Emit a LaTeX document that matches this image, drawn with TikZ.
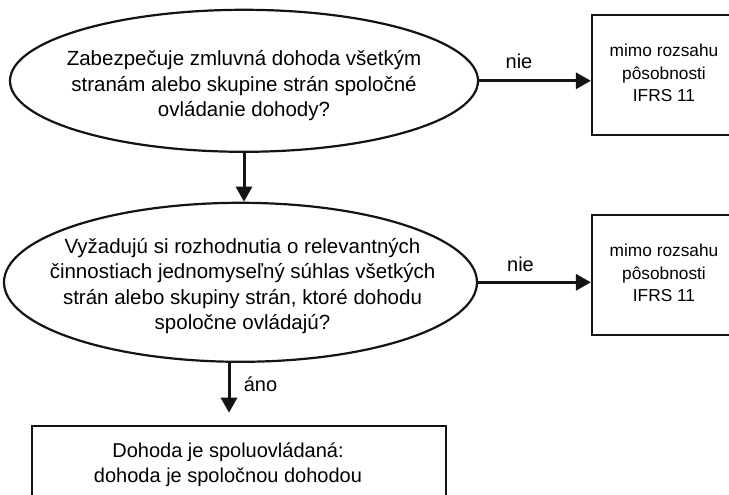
\documentclass[tikz,border=0pt]{standalone}
\usepackage{fontspec}
\setmainfont{Liberation Sans}
\usetikzlibrary{shapes.geometric,arrows.meta}
\definecolor{ink}{RGB}{20,20,20}
\begin{document}
\begin{tikzpicture}[x=1pt,y=-1pt,
  shapeline/.style={draw=ink,line width=2.2pt},
  question/.style={shapeline,ellipse,inner sep=0pt},
  boxshape/.style={shapeline,rectangle,inner sep=0pt},
  qtext/.style={align=center,inner sep=0pt,font=\fontsize{20.5}{25.5}\selectfont},
  btext/.style={align=center,inner sep=0pt,font=\fontsize{17.3}{22.5}\selectfont},
  lbl/.style={inner sep=0pt,anchor=base,font=\fontsize{20}{24}\selectfont},
  arr/.style={draw=ink,line width=3pt,-{Triangle[length=15pt,width=16pt]}}]
\useasboundingbox (0,0) rectangle (729,495);
\clip (0,0) rectangle (729,495);
\fill[white] (0,0) rectangle (729,495);

% question ellipses
\node[question,minimum width=468pt,minimum height=142pt] (q1) at (244,80.8) {};
\node[qtext] (q1t) at (244,86) {Zabezpečuje zmluvná dohoda všetkým\\stranám alebo skupine strán spoločné\\ovládanie dohody?};

\node[question,minimum width=473pt,minimum height=159pt] (q2) at (240.5,282.3) {};
\node[qtext] (q2t) at (242.5,286) {Vyžadujú si rozhodnutia o relevantných\\činnostiach jednomyseľný súhlas všetkých\\strán alebo skupiny strán, ktoré dohodu\\spoločne ovládajú?};

% out-of-scope boxes
\node[boxshape,minimum width=142pt,minimum height=120pt] (b1) at (663,75) {};
\node[btext] (b1t) at (664,73) {mimo rozsahu\\pôsobnosti\\IFRS 11};
\node[boxshape,minimum width=142pt,minimum height=120pt] (b2) at (663,275) {};
\node[btext] (b2t) at (664,273) {mimo rozsahu\\pôsobnosti\\IFRS 11};

% result box
\node[boxshape,minimum width=414pt,minimum height=84pt] (b3) at (239,468) {};
\node[qtext,font=\fontsize{20}{25}\selectfont] (b3t) at (228,465) {Dohoda je spoluovládaná:\\dohoda je spoločnou dohodou};

% connectors
\draw[arr] (q1.south) -- (q1.south |- q2.north);
\draw[arr] (q1.east) -- (q1.east -| b1.west);
\draw[arr] (q2.east) -- (q2.east -| b2.west);
\coordinate (t3) at (229,412.7);
\draw[arr] (q2.south -| t3) -- (t3);

% labels
\node[lbl] (n1) at (519,68.3) {nie};
\node[lbl] (n2) at (520.5,271.7) {nie};
\node[lbl] (a1) at (260.5,391.7) {áno};
\end{tikzpicture}
\end{document}
